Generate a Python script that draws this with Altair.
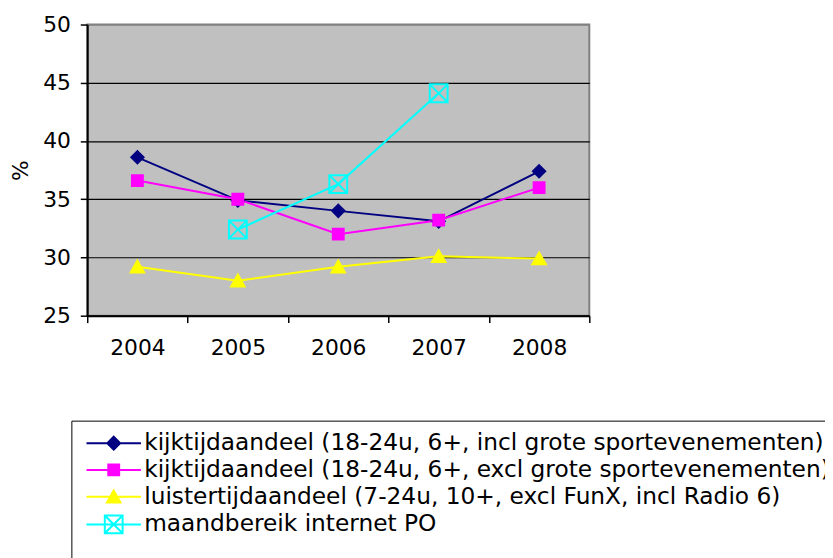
import altair as alt
import pandas as pd

years = ["2004", "2005", "2006", "2007", "2008"]
series_names = [
    "kijktijdaandeel (18-24u, 6+, incl grote sportevenementen)",
    "kijktijdaandeel (18-24u, 6+, excl grote sportevenementen)",
    "luistertijdaandeel (7-24u, 10+, excl FunX, incl Radio 6)",
    "maandbereik internet PO",
]
kijk_incl = [38.6, 34.9, 34.0, 33.1, 37.4]
kijk_excl = [36.6, 35.0, 32.0, 33.2, 36.0]
luister = [29.2, 28.0, 29.2, 30.1, 29.9]
internet = [None, 32.4, 36.3, 44.1, None]

rows = []
for name, vals in zip(series_names, [kijk_incl, kijk_excl, luister, internet]):
    for y, v in zip(years, vals):
        if v is not None:
            rows.append({"jaar": y, "reeks": name, "waarde": v})
df = pd.DataFrame(rows)

line_colors = ["#000080", "#FF00FF", "#FFFF00", "#00FFFF"]
fill_colors = ["#000080", "#FF00FF", "#FFFF00", "transparent"]

# marker paths (unit = sqrt(size)/2 px)
diamond = "M0,-0.62L0.62,0L0,0.62L-0.62,0Z"
square = "M-0.55,-0.55H0.55V0.55H-0.55Z"
triangle = "M0,-0.62L0.68,0.58H-0.68Z"
boxx = "M-0.9,-0.9H0.9V0.9H-0.9ZM-0.9,-0.9L0.9,0.9M0.9,-0.9L-0.9,0.9"
plot_shapes = [diamond, square, triangle, boxx]
line_seg = "M-2.75,0H-0.1M0.1,0H2.75"
legend_shapes = [line_seg + s for s in [
    "M0,-0.65L0.65,0L0,0.65L-0.65,0Z",
    "M-0.55,-0.55H0.55V0.55H-0.55Z",
    "M0,-0.62L0.68,0.58H-0.68Z",
    "M-0.9,-0.9H0.9V0.9H-0.9ZM-0.9,-0.9L0.9,0.9M0.9,-0.9L-0.9,0.9",
]]

x_enc = alt.X(
    "jaar:N",
    scale=alt.Scale(type="band", domain=years, paddingInner=0, paddingOuter=0),
    axis=alt.Axis(
        title=None, labelAngle=0, tickBand="extent", grid=False,
        domainColor="black", domainWidth=2, tickColor="black", tickWidth=1.5,
        tickSize=7, labelFontSize=22, labelPadding=15, labelColor="black",
        labelFont="DejaVu Sans",
    ),
)
y_enc = alt.Y(
    "waarde:Q",
    scale=alt.Scale(domain=[25, 50], nice=False, zero=False),
    axis=alt.Axis(
        title="%", values=[25, 30, 35, 40, 45, 50],
        grid=True,
        gridColor={"condition": {"test": "datum.value == 50", "value": "#808080"}, "value": "black"},
        gridWidth=1.2,
        domainColor="black", domainWidth=2, tickColor="black", tickWidth=1.5,
        tickSize=7, labelFontSize=22, labelPadding=10, labelColor="black",
        labelFont="DejaVu Sans", titleFont="DejaVu Sans", titleFontSize=22,
        titleFontWeight="normal", titleColor="black", titlePadding=10,
    ),
)

base = alt.Chart(df)

lines = base.mark_line(strokeWidth=2).encode(
    x=x_enc, y=y_enc,
    color=alt.Color("reeks:N", scale=alt.Scale(domain=series_names, range=line_colors), legend=None),
)

points = base.mark_point(size=400, strokeWidth=2, opacity=1).encode(
    x=x_enc, y=y_enc,
    fill=alt.Fill("reeks:N", scale=alt.Scale(domain=series_names, range=fill_colors), legend=None),
    stroke=alt.Stroke("reeks:N", scale=alt.Scale(domain=series_names, range=line_colors), legend=None),
    shape=alt.Shape("reeks:N", scale=alt.Scale(domain=series_names, range=plot_shapes), legend=None),
)

leg = alt.Legend(
    title=" ", titleOrient="bottom", titleFontSize=22, titlePadding=4,
    orient="none", legendX=-16, legendY=400,
    symbolSize=400, symbolStrokeWidth=2, symbolOpacity=1, symbolOffset=20,
    labelFontSize=23.5, labelFont="DejaVu Sans", labelColor="black", labelLimit=2000,
    labelOffset=19, rowPadding=2, padding=11,
    strokeColor="black", fillColor="white",
)
legend_layer = base.mark_point(size=400, opacity=0).encode(
    x=x_enc, y=y_enc,
    fill=alt.Fill("reeks:N", scale=alt.Scale(domain=series_names, range=fill_colors), legend=leg),
    stroke=alt.Stroke("reeks:N", scale=alt.Scale(domain=series_names, range=line_colors), legend=leg),
    shape=alt.Shape("reeks:N", scale=alt.Scale(domain=series_names, range=legend_shapes), legend=leg),
)

chart = alt.layer(lines, points, legend_layer).resolve_scale(
    fill="independent", stroke="independent", shape="independent"
).properties(
    width=507, height=294,
    autosize=alt.AutoSizeParams(type="none"),
    padding={"left": 80, "top": 14, "right": 238, "bottom": 242},
    background="white",
).configure_view(
    fill="#C0C0C0", stroke="#808080", strokeWidth=2,
)

chart.save("out.html", embed_options={"renderer": "svg", "actions": False})
